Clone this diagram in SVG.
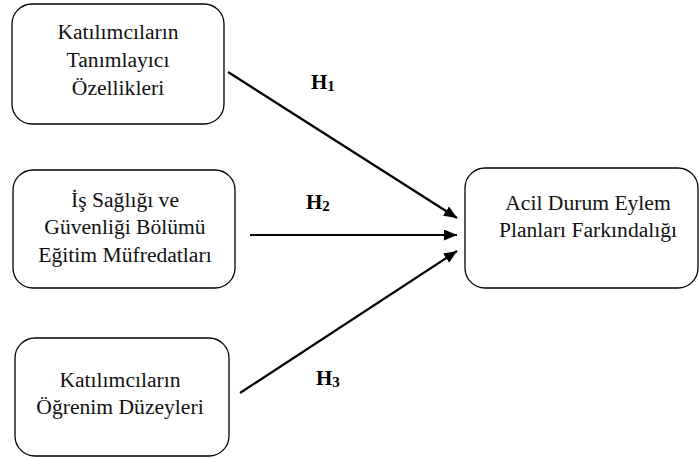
<svg xmlns="http://www.w3.org/2000/svg" width="700" height="458" viewBox="0 0 700 458">
<style>
.box{fill:#fff;stroke:#000;stroke-width:1.3}
text{font-family:'Liberation Serif', Tinos, 'Times New Roman', 'DejaVu Serif', serif}
.t{font-size:21.6px;fill:#111;text-anchor:middle}
.h{font-size:21px;font-weight:bold;fill:#000}
.h .s{font-size:15px}
.c{stroke:#000;stroke-width:2.2;fill:none;marker-end:url(#ah)}
</style>
<defs>
<marker id="ah" markerUnits="userSpaceOnUse" markerWidth="14" markerHeight="11" refX="13" refY="5.5" orient="auto">
<path d="M0,0 L13,5.5 L0,11 z" fill="#000"/>
</marker>
</defs>
<rect width="700" height="458" fill="#fff"/>
<g id="n1">
<rect class="box" x="12" y="4" width="212" height="120" rx="20"/>
<text class="t" x="118" y="39">Katılımcıların</text>
<text class="t" x="118" y="67">Tanımlayıcı</text>
<text class="t" x="118" y="95">Özellikleri</text>
</g>
<g id="n2">
<rect class="box" x="13" y="170" width="222" height="118" rx="20"/>
<text class="t" x="125" y="207">İş Sağlığı ve</text>
<text class="t" x="125" y="234">Güvenliği Bölümü</text>
<text class="t" x="125" y="262">Eğitim Müfredatları</text>
</g>
<g id="n3">
<rect class="box" x="15" y="338" width="214" height="118" rx="20"/>
<text class="t" x="120" y="387">Katılımcıların</text>
<text class="t" x="120" y="414">Öğrenim Düzeyleri</text>
</g>
<g id="n4">
<rect class="box" x="465" y="168" width="233" height="120" rx="20"/>
<text class="t" x="588" y="210">Acil Durum Eylem</text>
<text class="t" x="588" y="237">Planları Farkındalığı</text>
</g>
<g id="connectors">
<line class="c" x1="228" y1="72" x2="457" y2="218"/>
<line class="c" x1="250" y1="235" x2="457" y2="235"/>
<line class="c" x1="240" y1="393" x2="457" y2="251"/>
</g>
<g id="labels">
<text class="h" x="311" y="89">H<tspan class="s" dy="2">1</tspan></text>
<text class="h" x="306" y="209">H<tspan class="s" dy="2">2</tspan></text>
<text class="h" x="316" y="385">H<tspan class="s" dy="2">3</tspan></text>
</g>
</svg>
